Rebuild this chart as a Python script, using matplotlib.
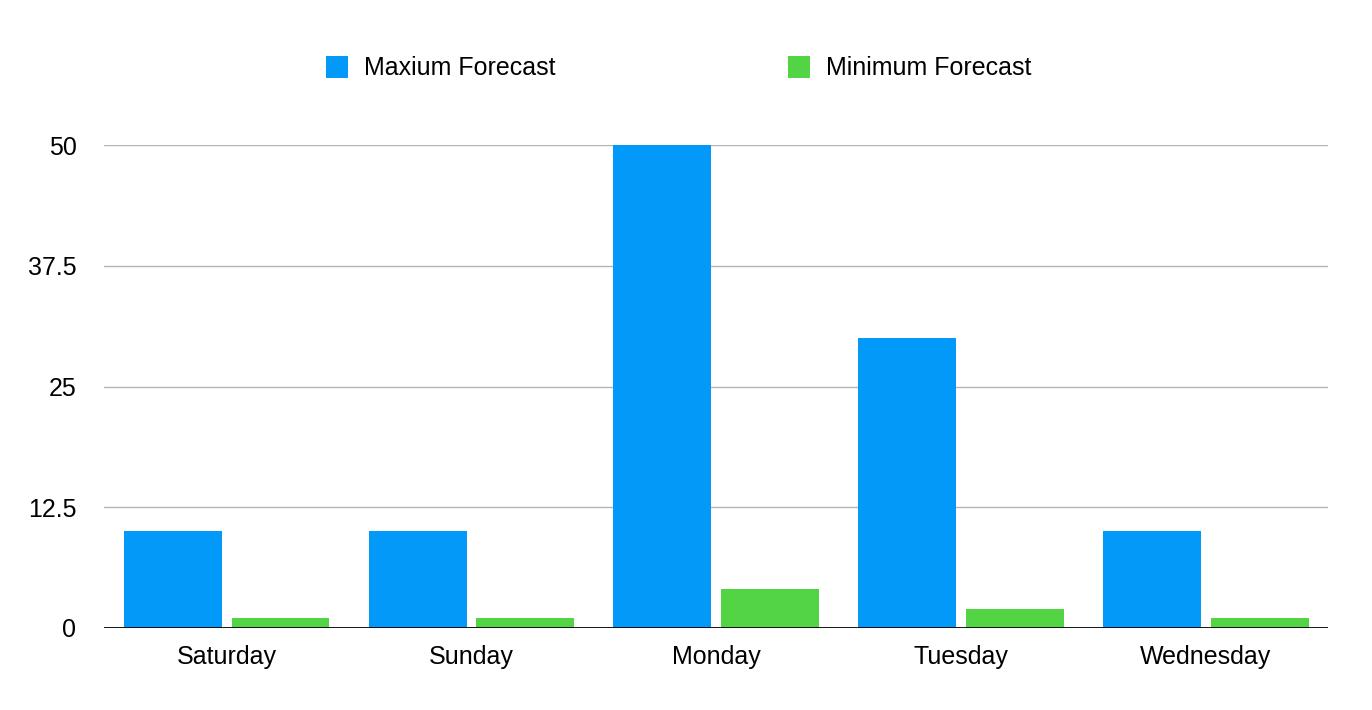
import matplotlib
matplotlib.use("Agg")
import matplotlib.pyplot as plt
import numpy as np

days = ['Saturday', 'Sunday', 'Monday', 'Tuesday', 'Wednesday']
max_forecast = [10, 10, 50, 30, 10]
min_forecast = [1, 1, 4, 2, 1]
yticks = [0, 12.5, 25, 37.5, 50]

BLUE = '#0399f8'
GREEN = '#52d444'

plt.rcParams['font.family'] = ['Liberation Sans', 'DejaVu Sans']

fig = plt.figure(figsize=(13.72, 7.10), dpi=100)
ax = fig.add_axes([0.076, 0.1155, 0.892, 0.680])

x = np.arange(len(days))
w = 0.4
ax.bar(x - 0.22, max_forecast, w, color=BLUE, label='Maxium Forecast', zorder=3)
ax.bar(x + 0.22, min_forecast, w, color=GREEN, label='Minimum Forecast', zorder=3)

ax.set_xlim(-0.5, len(days) - 0.5)
ax.set_ylim(0, 50)
ax.set_yticks(yticks)
ax.set_yticklabels(['0', '12.5', '25', '37.5', '50'])
ax.set_xticks(x)
ax.set_xticklabels(days)
ax.tick_params(axis='both', length=0, labelsize=18, colors='black')
ax.tick_params(axis='y', pad=20)
ax.tick_params(axis='x', pad=12)
ax.grid(axis='y', color='#b3b3b3', linewidth=1, zorder=0)
ax.axhline(0, color='black', linewidth=2, zorder=4)
for s in ax.spines.values():
    s.set_visible(False)

# legend above plot
leg = fig.legend(loc='center', bbox_to_anchor=(0.495, 0.904), ncol=2,
                 frameon=False, fontsize=18, handlelength=0.88,
                 handleheight=0.95, handletextpad=0.64, columnspacing=9.3)

fig.savefig('out.png', dpi=100)
